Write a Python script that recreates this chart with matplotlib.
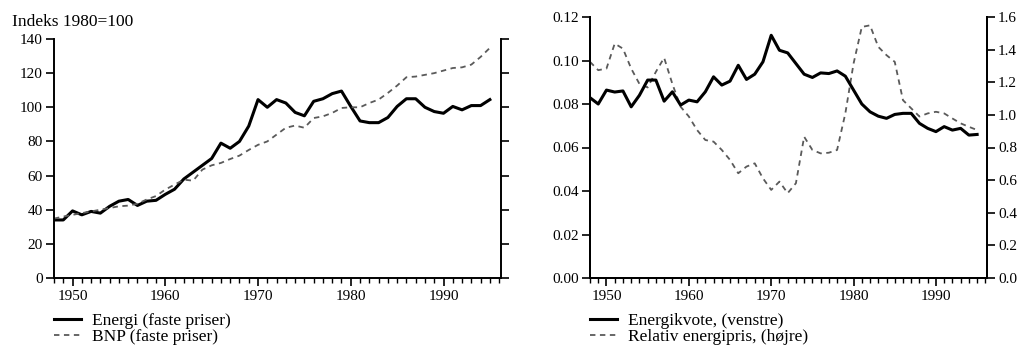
import matplotlib
matplotlib.use("Agg")
import matplotlib.pyplot as plt
from matplotlib.ticker import MultipleLocator

plt.rcParams['font.family'] = ['Liberation Serif', 'DejaVu Serif']
plt.rcParams['font.size'] = 11

years = list(range(1948, 1996))

energi = [34, 34, 39.3, 37, 39, 38, 42, 45, 46, 42.5, 45, 45.5, 49, 52, 58, 62,
          66, 70, 79, 76, 80, 89, 104.5, 100, 104.5, 102.5, 97, 95, 103.5, 105,
          108, 109.5, 100.5, 92, 91, 91, 94, 100.5, 105, 105, 100, 97.5, 96.5,
          100.5, 98.5, 101, 101, 104.5]
bnp = [34.8, 36, 37, 38, 39, 40, 41, 42, 42.4, 43.5, 46, 48, 51.8, 54.7, 57.6, 57,
       63.5, 66, 67.4, 69.7, 71.7, 75, 78, 80, 84, 88, 89.3, 88, 93.7, 94.7,
       96.7, 99.6, 100, 100, 102.5, 104.5, 108.4, 112.7, 117.6, 118, 119, 120,
       121.5, 123, 123.4, 125, 129.5, 134.8]

energikvote = [0.0829, 0.0800, 0.0864, 0.0855, 0.0860, 0.0787, 0.0840, 0.0910,
               0.0910, 0.0813, 0.0856, 0.0795, 0.0818, 0.0810, 0.0856, 0.0925,
               0.0887, 0.0905, 0.0978, 0.0913, 0.0937, 0.0994, 0.1116, 0.1047,
               0.1035, 0.0986, 0.0937, 0.0922, 0.0943, 0.0940, 0.0952, 0.0928,
               0.0864, 0.0800, 0.0764, 0.0744, 0.0734, 0.0752, 0.0757, 0.0757,
               0.0711, 0.0688, 0.0673, 0.0696, 0.0680, 0.0688, 0.0657, 0.0660]
relpris = [1.325, 1.274, 1.284, 1.437, 1.406, 1.284, 1.19, 1.168, 1.264, 1.35,
           1.19, 1.05, 0.99, 0.907, 0.846, 0.836, 0.785, 0.724, 0.642, 0.683,
           0.703, 0.611, 0.54, 0.591, 0.52, 0.581, 0.866, 0.785, 0.764, 0.768,
           0.785, 1.009, 1.315, 1.539, 1.549, 1.417, 1.366, 1.325, 1.09, 1.04,
           0.99, 1.009, 1.019, 1.009, 0.978, 0.948, 0.927, 0.907]

xticks = [1950, 1960, 1970, 1980, 1990]
left_yticks = [0, 20, 40, 60, 80, 100, 120, 140]
right_l_yticks = [0.00, 0.02, 0.04, 0.06, 0.08, 0.10, 0.12]
right_r_yticks = [0.0, 0.2, 0.4, 0.6, 0.8, 1.0, 1.2, 1.4, 1.6]

W, H = 1018, 347
fig = plt.figure(figsize=(W / 100, H / 100), dpi=100)

ax1 = fig.add_axes([54 / W, 1 - 278 / H, (501 - 54) / W, (278 - 39) / H])
ax2 = fig.add_axes([590 / W, 1 - 278 / H, (987 - 590) / W, (278 - 17) / H])

solid_kw = dict(color='black', lw=2.2, solid_joinstyle='round')
dash_kw = dict(color='#5a5a5a', lw=1.3, linestyle=(0, (3, 2.5)))


def style_x(ax):
    ax.set_xlim(1948, 1996.2)
    ax.set_xticks(xticks)
    ax.xaxis.set_minor_locator(MultipleLocator(1))
    ax.tick_params(axis='x', which='major', direction='out', length=6, width=1.2, pad=3)
    ax.tick_params(axis='x', which='minor', direction='out', length=3.5, width=1.0)
    ax.spines['top'].set_visible(False)
    for s in ('left', 'right', 'bottom'):
        ax.spines[s].set_linewidth(1.4)


leg_kw = dict(loc='upper left', frameon=False, borderaxespad=0, borderpad=0,
              handlelength=1.55, handletextpad=0.65, labelspacing=0.02,
              fontsize=12.5)

# Left panel
l1, = ax1.plot(years, energi, label='Energi (faste priser)', **solid_kw)
l2, = ax1.plot(years, bnp, label='BNP (faste priser)', **dash_kw)
style_x(ax1)
ax1.set_ylim(0, 140)
ax1.set_yticks(left_yticks)
ax1.tick_params(axis='y', which='major', direction='out', length=6, width=1.2,
                right=True, labelright=False, pad=2)
fig.text(12 / W, 1 - 26 / H, 'Indeks 1980=100', fontsize=12.5, ha='left', va='baseline')
ax1.legend(handles=[l1, l2], bbox_to_anchor=(0, -0.145), **leg_kw)

# Right panel
r1, = ax2.plot(years, energikvote, label='Energikvote, (venstre)', **solid_kw)
style_x(ax2)
ax2.set_ylim(0, 0.12)
ax2.set_yticks(right_l_yticks)
ax2.set_yticklabels([f"{v:.2f}" for v in right_l_yticks])
ax2.tick_params(axis='y', which='major', direction='out', length=6, width=1.2, pad=2)

ax3 = ax2.twinx()
r2, = ax3.plot(years, relpris, label='Relativ energipris, (højre)', **dash_kw)
ax3.set_ylim(0, 1.6)
ax3.set_yticks(right_r_yticks)
ax3.set_yticklabels([f"{v:.1f}" for v in right_r_yticks])
ax3.tick_params(axis='y', which='major', direction='out', length=6, width=1.2, pad=2)
ax3.spines['top'].set_visible(False)
for s in ('left', 'right', 'bottom'):
    ax3.spines[s].set_linewidth(1.4)
ax2.set_zorder(ax3.get_zorder() + 1)
ax2.patch.set_visible(False)

ax2.legend(handles=[r1, r2], bbox_to_anchor=(0, -0.133), **leg_kw)

fig.savefig('out.png', dpi=100)
